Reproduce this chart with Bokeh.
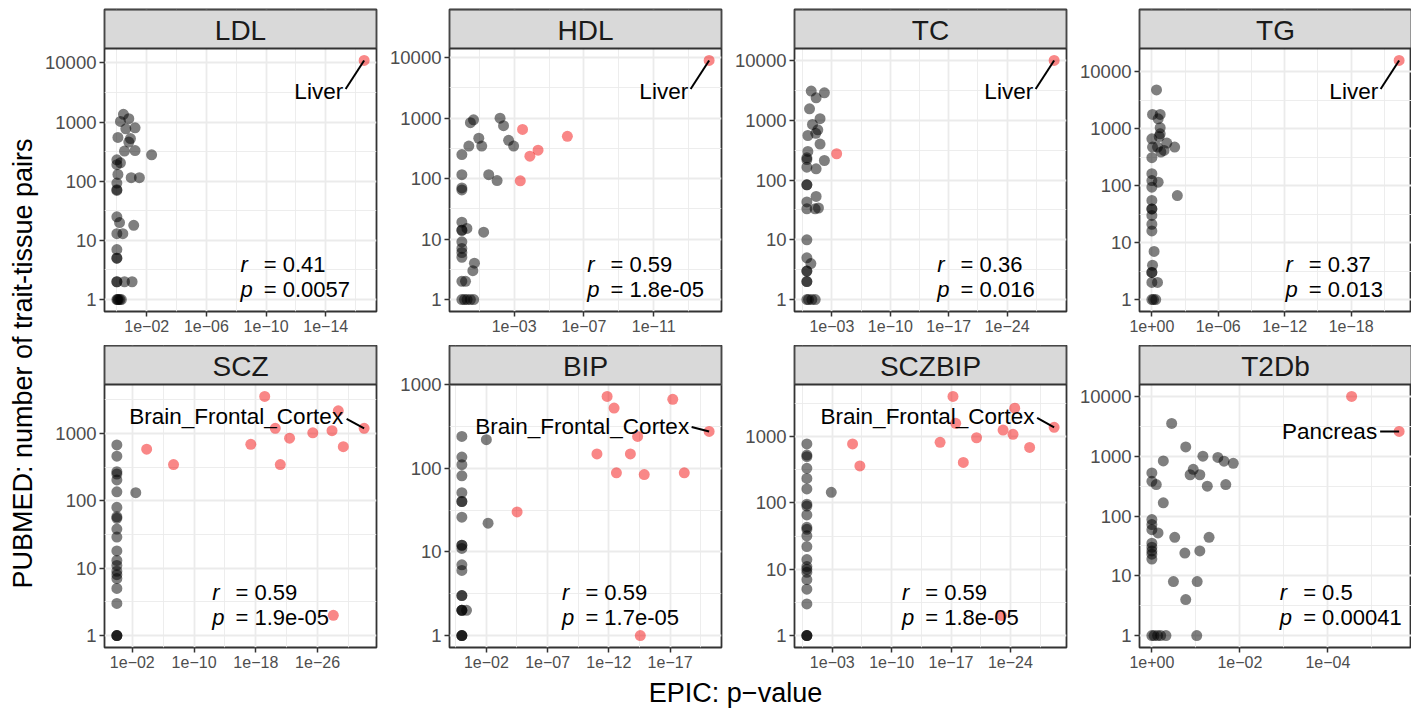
import numpy as np
from bokeh.plotting import figure
from bokeh.layouts import row, column
from bokeh.models import Range1d, FixedTicker
from bokeh.core.properties import value
from bokeh.embed import file_html
from bokeh.resources import INLINE

FONT = "Liberation Sans"
MINUS = "\u2212"

# ---------------- data: x = -log10(EPIC p-value), y = PUBMED count ----------------
PANEL_NAMES = ["LDL", "HDL", "TC", "TG", "SCZ", "BIP", "SCZBIP", "T2Db"]

LDL_X = [0.44, 0.24, 0.80, 1.22, 0.60, 0.07, 0.91, 0.80, 1.22, 0.51, 2.33, 0.00, 0.24, 0.00, 0.96,
         1.51, 0.07, 0.00, 0.00, 0.00, 0.00, 0.18, 1.13, 0.00, 0.40, 0.00, 0.00, 0.00, 0.00, 0.00,
         0.51, 1.02, 0.00, 0.10, 0.20, 0.30, 0.05]
LDL_Y = [1350, 1025, 1140, 800, 770, 550, 525, 460, 330, 323, 280, 230, 205, 190, 115,
         115, 130, 93, 72, 70, 25, 20, 18, 13, 13, 7, 5, 5, 2, 2,
         2, 2, 1, 1, 1, 1, 1]
LDL_SIG_X = [16.57]
LDL_SIG_Y = [11000]

HDL_X = [0.49, 0.67, 2.19, 2.39, 0.97, 2.68, 2.97, 0.40, 1.14, 0.00, 1.54, 2.02, 0.00, 0.00, 0.00,
         0.00, 0.00, 0.00, 0.29, 1.25, 0.00, 0.00, 0.00, 0.00, 0.72, 0.63, 0.21, 0.00, 0.00, 0.15,
         0.30, 0.49, 0.68]
HDL_Y = [840, 940, 1000, 750, 465, 430, 345, 345, 345, 250, 116, 93, 116, 70, 65,
         19, 14, 14, 15, 13, 9, 7, 6, 5, 4, 3, 2, 2, 1, 1,
         1, 1, 1]
HDL_SIG_X = [14.18, 3.48, 6.05, 4.37, 3.90, 3.35]
HDL_SIG_Y = [9000, 650, 500, 295, 235, 92]

TC_X = [0.52, 2.10, 1.11, 0.32, 1.58, 0.67, 1.31, 1.07, 0.12, 1.58, 0.12, 0.00, 0.00, 2.10, 0.00,
        1.11, 0.00, 0.00, 1.11, 0.00, 0.00, 0.99, 1.39, 0.00, 0.00, 0.48, 0.00, 0.00, 0.00, 0.00,
        0.00, 0.20, 0.60, 1.00]
TC_Y = [3070, 2880, 2370, 1550, 1060, 850, 690, 605, 555, 400, 300, 235, 220, 212, 164,
        154, 83, 83, 53, 43, 33, 33, 34, 10, 5, 4, 3, 3, 2, 2,
        1, 1, 1, 1]
TC_SIG_X = [29.63, 3.57]
TC_SIG_Y = [10000, 275]

TG_X = [0.42, 0.06, 0.75, 0.57, 0.75, 0.75, 0.66, 0.00, 1.35, 2.06, 0.06, 0.51, 1.10, 0.81, 0.00,
        0.00, 0.00, 0.57, 0.00, 2.30, 0.00, 0.00, 0.00, 0.00, 0.00, 0.00, 0.20, 0.06, 0.00, 0.00,
        0.51, 0.00, 0.00, 0.15, 0.35]
TG_Y = [4800, 1780, 1780, 1490, 1040, 815, 730, 665, 560, 475, 475, 475, 415, 390, 310,
        162, 123, 115, 94, 67, 55, 39, 39, 30, 21, 16, 7, 4, 3, 3,
        2, 2, 1, 1, 1]
TG_SIG_X = [22.33]
TG_SIG_Y = [15800]

SCZ_X = [2.45, 0, 0, 0, 0, 0, 0, 0, 0, 0, 0, 0, 0, 0, 0, 0, 0, 0, 0, 0, 0, 0, 0]
SCZ_Y = [132, 675, 460, 270, 250, 204, 136, 80, 58, 55, 38, 29, 18, 13, 11, 9, 8, 7, 5, 3, 1, 1, 1]
SCZ_SIG_X = [19.15, 28.68, 32.03, 20.52, 22.37, 25.38, 27.87, 17.35, 29.33, 3.86, 7.34, 21.17, 28.04]
SCZ_SIG_Y = [3540, 2170, 1190, 1190, 850, 1020, 1100, 690, 635, 585, 345, 345, 2]

BIP_X = [2.00, 2.14, 0, 0, 0, 0, 0, 0, 0, 0, 0, 0, 0, 0, 0, 0, 0, 0, 0, 0, 0, 0, 0, 0.38]
BIP_Y = [219, 22, 240, 136, 110, 81, 51, 40, 40, 26, 12, 12, 11, 7, 6, 3, 3, 2, 2, 2, 1, 1, 1, 2]
BIP_SIG_X = [11.86, 17.22, 12.43, 20.19, 14.35, 11.03, 13.76, 12.62, 14.89, 18.16, 4.51, 14.57]
BIP_SIG_Y = [720, 665, 523, 275, 240, 148, 148, 88, 84, 88, 30, 1]

SCZBIP_X = [2.88, 0, 0, 0, 0, 0, 0, 0, 0, 0, 0, 0, 0, 0, 0, 0, 0, 0, 0, 0, 0, 0, 0, 0]
SCZBIP_Y = [145, 777, 528, 500, 333, 235, 163, 96, 90, 66, 43, 40, 32, 22, 14, 11, 10, 9, 7, 5, 3, 1, 1, 1]
SCZBIP_SIG_X = [17.23, 24.51, 29.16, 17.55, 23.14, 24.31, 20.01, 15.71, 5.39, 26.27, 6.25, 18.45, 22.94]
SCZBIP_SIG_Y = [4050, 2690, 1385, 1590, 1260, 1085, 965, 822, 777, 690, 362, 410, 2]

T2DB_X = [0.45, 0.77, 1.16, 1.50, 1.64, 1.85, 0.26, 0.94, 0.87, 1.09, 0.00, 0.00, 0.10, 1.26, 1.68,
          0.26, 0.00, 0.00, 0.00, 0.14, 0.52, 1.30, 0.00, 0.00, 0.00, 0.00, 0.00, 0.75, 1.09, 0.49,
          1.03, 0.77, 1.02, 0.00, 0.05, 0.13, 0.20, 0.32]
T2DB_Y = [3540, 1430, 1000, 955, 828, 760, 835, 605, 490, 490, 525, 380, 335, 315, 335,
          166, 87, 72, 59, 52, 44, 44, 35, 30, 26, 23, 19, 24, 26, 8,
          8, 4, 1, 1, 1, 1, 1, 1]
T2DB_SIG_X = [4.54, 5.62]
T2DB_SIG_Y = [10000, 2600]

LABELS = ["Liver", "Liver", "Liver", "Liver",
          "Brain_Frontal_Cortex", "Brain_Frontal_Cortex", "Brain_Frontal_Cortex", "Pancreas"]
STAT_R = ["0.41", "0.59", "0.36", "0.37", "0.59", "0.59", "0.59", "0.5"]
STAT_P = ["0.0057", "1.8e-05", "0.016", "0.013", "1.9e-05", "1.7e-05", "1.8e-05", "0.00041"]
X_TICKS = [[2, 6, 10, 14], [3, 7, 11], [3, 10, 17, 24], [0, 6, 12, 18],
           [2, 10, 18, 26], [2, 7, 12, 17], [3, 10, 17, 24], [0, 2, 4]]

GREY_X = [LDL_X, HDL_X, TC_X, TG_X, SCZ_X, BIP_X, SCZBIP_X, T2DB_X]
GREY_Y = [LDL_Y, HDL_Y, TC_Y, TG_Y, SCZ_Y, BIP_Y, SCZBIP_Y, T2DB_Y]
SIG_X = [LDL_SIG_X, HDL_SIG_X, TC_SIG_X, TG_SIG_X, SCZ_SIG_X, BIP_SIG_X, SCZBIP_SIG_X, T2DB_SIG_X]
SIG_Y = [LDL_SIG_Y, HDL_SIG_Y, TC_SIG_Y, TG_SIG_Y, SCZ_SIG_Y, BIP_SIG_Y, SCZBIP_SIG_Y, T2DB_SIG_Y]

# ---------------- layout / style constants ----------------
FRAME_W, FRAME_H = 272, 263
LEFT, RIGHT = 65, 8
STRIP_H = 39
ROW_TOP = [9, 0]
ROW_BOTTOM = [34, 29]
YTITLE_W = 39
XTITLE_H = 33
STAT_FX = [0.50, 0.506, 0.525, 0.537, 0.396, 0.414, 0.395, 0.516]
STAT_LINES = [(47.5, 22.5), (55.5, 30.5)]
# text right edge dx, text centre dy (screen px, +down), segment start dx, dy
LABEL_OFFSETS = [(-21, 31, -18.5, 28.5)] * 4 + [(-21, -11.7, -17.5, -9.5), (-20, -5, -17.5, -4.5),
                                              (-19.7, -10.7, -17, -9.5), (-22, 0, -19, 0)]
BORDER = "#333333"
GRID = "#EBEBEB"


def xtick_label(t):
    return "1e+00" if t == 0 else "1e%s%02d" % (MINUS, t)


def style_text(**kw):
    d = dict(text_font=value(FONT), text_color="black")
    d.update(kw)
    return d


def make_panel(k):
    r = k // 4
    top, bottom = ROW_TOP[r], ROW_BOTTOM[r]
    gx, gy, sx, sy = GREY_X[k], GREY_Y[k], SIG_X[k], SIG_Y[k]
    allx = np.array(list(gx) + list(sx), dtype=float)
    ally = np.log10(np.array(list(gy) + list(sy), dtype=float))
    ex = 0.05 * (allx.max() - allx.min())
    ey = 0.05 * (ally.max() - ally.min())
    x0, x1 = allx.min() - ex, allx.max() + ex
    y0, y1 = ally.min() - ey, ally.max() + ey
    # facet strip sits on top of the panel, inside the same frame
    y1s = y1 + STRIP_H * (y1 - y0) / FRAME_H
    right = 0 if k % 4 == 3 else RIGHT

    p = figure(width=LEFT + FRAME_W + right, height=top + STRIP_H + FRAME_H + bottom,
               x_range=Range1d(x0, x1), y_range=Range1d(10 ** y0, 10 ** y1s),
               y_axis_type="log", output_backend="svg", toolbar_location=None,
               min_border_left=LEFT, min_border_right=right, min_border_top=top,
               min_border_bottom=bottom)
    p.outline_line_color = BORDER
    p.outline_line_width = 1.8

    majors = X_TICKS[k]
    step = majors[1] - majors[0]
    minors = [m - step / 2 for m in majors] + [majors[-1] + step / 2]
    minors = [m for m in minors if x0 <= m <= x1]
    xt = FixedTicker(ticks=majors, minor_ticks=minors)
    p.xaxis.ticker = xt
    p.xgrid.ticker = xt
    p.xaxis.major_label_overrides = {t: xtick_label(t) for t in majors}

    ymaj = [10 ** e for e in range(int(np.ceil(y0)), int(np.floor(y1)) + 1)]
    ymin = [10 ** (e + 0.5) for e in range(int(np.floor(y0)) - 1, int(np.ceil(y1)) + 1)
            if y0 <= e + 0.5 <= y1]
    yt = FixedTicker(ticks=ymaj, minor_ticks=ymin)
    p.yaxis.ticker = yt
    p.ygrid.ticker = yt
    p.yaxis.major_label_overrides = {t: str(t) for t in ymaj}

    for ax in (p.xaxis[0], p.yaxis[0]):
        ax.axis_line_color = None
        ax.major_tick_line_color = BORDER
        ax.major_tick_line_width = 1.5
        ax.major_tick_in = 0
        ax.major_tick_out = 5
        ax.minor_tick_line_color = None
        ax.major_label_text_font = FONT
        ax.major_label_text_color = "#4D4D4D"
        ax.major_label_standoff = 3
    p.xaxis.major_label_text_font_size = "16px"
    p.yaxis.major_label_text_font_size = "18.5px"

    p.grid.grid_line_color = GRID
    p.grid.grid_line_width = 1.8
    p.grid.minor_grid_line_color = GRID
    p.grid.minor_grid_line_width = 0.9

    p.scatter(gx, gy, size=11, fill_color="black", fill_alpha=0.5, line_color=None)
    p.scatter(sx, sy, size=11, fill_color="#F20000", fill_alpha=0.47, line_color=None)

    def shift(xd, yd, dx, dy):
        return xd + dx * (x1 - x0) / FRAME_W, 10 ** (np.log10(yd) - dy * (y1 - y0) / FRAME_H)

    def frame_pos(fx, up):
        return x0 + fx * (x1 - x0), 10 ** (y0 + up * (y1 - y0) / FRAME_H)

    # repelled label for the top tissue
    i = int(np.argmax(sx))
    px, py = sx[i], sy[i]
    tdx, tdy, sdx, sdy = LABEL_OFFSETS[k]
    tx, ty = shift(px, py, tdx, tdy)
    qx, qy = shift(px, py, sdx, sdy)
    p.segment(x0=[qx], y0=[qy], x1=[px], y1=[py], line_color="black", line_width=2)
    p.text(x=[tx], y=[ty], text=[LABELS[k]], text_align="right", text_baseline="middle",
           **style_text(text_font_size="22.5px"))

    # correlation annotation
    l1, l2 = STAT_LINES[r]
    for up, sym, val in ((l1, "r", "= " + STAT_R[k]), (l2, "p", "= " + STAT_P[k])):
        xa, ya = frame_pos(STAT_FX[k], up)
        xb = xa + 23.3 * (x1 - x0) / FRAME_W
        p.text(x=[xa], y=[ya], text=[sym], text_align="left", text_baseline="middle",
               text_font_style="italic", **style_text(text_font_size="22px"))
        p.text(x=[xb], y=[ya], text=[val], text_align="left", text_baseline="middle",
               **style_text(text_font_size="22px"))

    # facet strip
    p.quad(left=[x0], right=[x1], bottom=[10 ** y1], top=[10 ** y1s],
           fill_color="#D9D9D9", line_color=BORDER, line_width=1.8)
    p.text(x=[(x0 + x1) / 2], y=[10 ** (y1 + 0.47 * (y1s - y1))], text=[PANEL_NAMES[k]],
           text_align="center", text_baseline="middle",
           **style_text(text_font_size="28px", text_color="#1A1A1A"))
    return p


rows = [row(*[make_panel(k) for k in range(4 * r, 4 * r + 4)], spacing=0) for r in range(2)]
body = column(*rows, spacing=0)
body_h = sum(ROW_TOP) + sum(ROW_BOTTOM) + 2 * (STRIP_H + FRAME_H)

ytitle = figure(width=YTITLE_W, height=body_h, x_range=Range1d(0, YTITLE_W), y_range=Range1d(0, body_h),
                x_axis_location=None, y_axis_location=None, output_backend="svg",
                toolbar_location=None, min_border=0)
ytitle.grid.visible = False
ytitle.outline_line_color = None
ytitle.text(x=[22], y=[body_h - 363], text=["PUBMED: number of trait-tissue pairs"], angle=np.pi / 2,
            text_align="center", text_baseline="middle", **style_text(text_font_size="27px"))

total_w = YTITLE_W + 3 * (LEFT + FRAME_W + RIGHT) + (LEFT + FRAME_W)
xtitle = figure(width=total_w, height=XTITLE_H, x_range=Range1d(0, total_w), y_range=Range1d(0, XTITLE_H),
                x_axis_location=None, y_axis_location=None, output_backend="svg",
                toolbar_location=None, min_border=0)
xtitle.grid.visible = False
xtitle.outline_line_color = None
xtitle.text(x=[735], y=[XTITLE_H - 16], text=["EPIC: p" + MINUS + "value"], text_align="center",
            text_baseline="middle", **style_text(text_font_size="27px"))

layout = column(row(ytitle, body, spacing=0), xtitle, spacing=0)

open("out.html", "w").write(file_html(layout, INLINE))
